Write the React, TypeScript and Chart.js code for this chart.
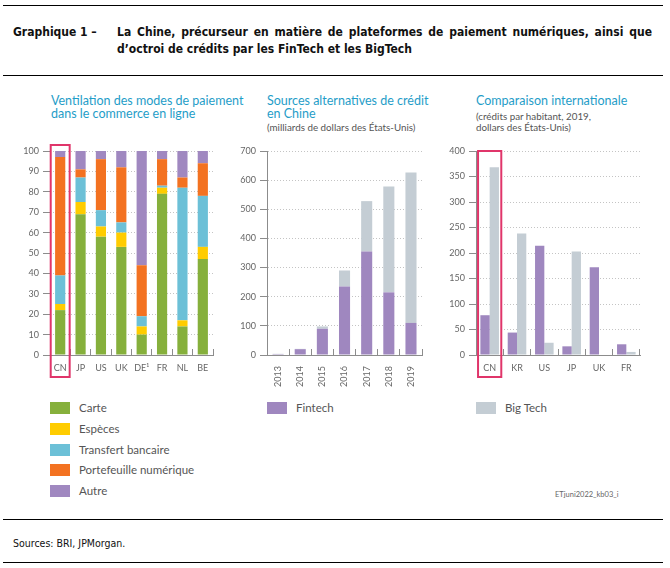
import React, { useEffect, useRef } from "react";
import { Chart, registerables } from "chart.js";

Chart.register(...registerables);

// ---------- Data ----------
const payCategories = ["CN", "JP", "US", "UK", "DE¹", "FR", "NL", "BE"];
const carte = [22, 69, 58, 53, 10, 79, 14, 47];
const especes = [3, 6, 5, 7, 4, 3, 3, 6];
const transfert = [14, 12, 8, 5, 5, 1, 65, 25];
const portefeuille = [58, 4, 25, 27, 25, 13, 5, 16];
const autre = [3, 9, 4, 8, 56, 4, 13, 6];

const years = ["2013", "2014", "2015", "2016", "2017", "2018", "2019"];
const fintechChina = [3, 20, 90, 235, 355, 215, 110];
const bigtechChina = [1, 1, 8, 55, 173, 363, 516];

const countries = ["CN", "KR", "US", "JP", "UK", "FR"];
const fintechPerCapita = [78, 44, 214, 17, 172, 21];
const bigtechPerCapita = [368, 238, 24, 203, 1, 6];

const payLegend = ["Carte", "Espèces", "Transfert bancaire", "Portefeuille numérique", "Autre"];

// ---------- Styles ----------
const C_CARTE = "#86b03c";
const C_ESPECES = "#ffcc00";
const C_TRANSFERT = "#6cc0d7";
const C_PORTEFEUILLE = "#f37221";
const C_AUTRE = "#a088c0";
const C_FINTECH = "#9f87bf";
const C_BIGTECH = "#c4cdd4";
const TEAL = "#1f9dc8";
const FONT = "Lato, 'Open Sans', sans-serif";
const DOC_FONT = "'DejaVu Sans Condensed', 'Liberation Sans', sans-serif";
const TICK_COLOR = "#666";
const GRID_COLOR = "#c4c4c4";
const AXIS_COLOR = "#8c8c8c";
const RED = "#e0356a";

function highlight(widthFrac: number, padTop: number, padBottom: number) {
  return {
    id: "highlight",
    afterDraw(chart: any) {
      const x = chart.scales.x;
      const cx = x.getPixelForValue(0);
      const w = (x.getPixelForValue(1) - cx) * widthFrac;
      const ca = chart.chartArea;
      const ctx = chart.ctx;
      ctx.save();
      ctx.strokeStyle = RED;
      ctx.lineWidth = 2;
      ctx.strokeRect(cx - w / 2, ca.top - padTop, w, ca.bottom - ca.top + padTop + padBottom);
      ctx.restore();
    },
  };
}

function yScale(max: number, step: number, showBorder: boolean, width: number) {
  return {
    min: 0,
    max,
    stacked: true,
    afterFit: (s: any) => {
      s.width = width;
    },
    ticks: {
      stepSize: step,
      color: TICK_COLOR,
      font: { family: FONT, size: 9 },
      padding: 4,
    },
    grid: {
      color: GRID_COLOR,
      tickColor: AXIS_COLOR,
      tickLength: 7,
      tickBorderDash: [],
    },
    border: {
      display: showBorder,
      color: AXIS_COLOR,
      dash: [1, 2],
    },
  };
}

function xScale(stacked: boolean, rotate: boolean, padding: number) {
  return {
    stacked,
    afterFit: (s: any) => {
      s.height = 35;
    },
    ticks: {
      color: TICK_COLOR,
      font: { family: FONT, size: 9 },
      autoSkip: false,
      padding,
      minRotation: rotate ? 90 : 0,
      maxRotation: rotate ? 90 : 0,
    },
    grid: {
      offset: true,
      drawOnChartArea: false,
      drawTicks: true,
      tickLength: -6,
      tickColor: AXIS_COLOR,
    },
    border: { display: true, color: AXIS_COLOR, width: 1 },
  };
}

const baseOptions = (padRight: number) => ({
  responsive: false,
  animation: false as const,
  devicePixelRatio: 1,
  layout: { padding: { top: 11, right: padRight, bottom: 0, left: 0 } },
  plugins: { legend: { display: false }, tooltip: { enabled: false } },
});

export default function App() {
  const leftRef = useRef<HTMLCanvasElement>(null);
  const midRef = useRef<HTMLCanvasElement>(null);
  const rightRef = useRef<HTMLCanvasElement>(null);

  useEffect(() => {
    const left = new Chart(leftRef.current as HTMLCanvasElement, {
      type: "bar",
      data: {
        labels: payCategories,
        datasets: [
          { label: payLegend[0], data: carte, backgroundColor: C_CARTE },
          { label: payLegend[1], data: especes, backgroundColor: C_ESPECES },
          { label: payLegend[2], data: transfert, backgroundColor: C_TRANSFERT },
          { label: payLegend[3], data: portefeuille, backgroundColor: C_PORTEFEUILLE },
          { label: payLegend[4], data: autre, backgroundColor: C_AUTRE },
        ].map((d) => ({ ...d, categoryPercentage: 1, barPercentage: 0.5, borderWidth: 0 })),
      },
      options: {
        ...baseOptions(12),
        scales: {
          x: xScale(true, false, 14),
          y: yScale(100, 10, false, 50),
        },
      } as any,
      plugins: [highlight(0.93, 6, 22)],
    });

    const mid = new Chart(midRef.current as HTMLCanvasElement, {
      type: "bar",
      data: {
        labels: years,
        datasets: [
          { label: "Fintech", data: fintechChina, backgroundColor: C_FINTECH },
          { label: "Big Tech", data: bigtechChina, backgroundColor: C_BIGTECH },
        ].map((d) => ({ ...d, categoryPercentage: 1, barPercentage: 0.5, borderWidth: 0 })),
      },
      options: {
        ...baseOptions(17),
        scales: {
          x: xScale(true, true, 17),
          y: yScale(700, 100, true, 42),
        },
      } as any,
    });

    const yR: any = yScale(400, 50, true, 36);
    yR.stacked = false;
    const right = new Chart(rightRef.current as HTMLCanvasElement, {
      type: "bar",
      data: {
        labels: countries,
        datasets: [
          { label: "Fintech", data: fintechPerCapita, backgroundColor: C_FINTECH },
          { label: "Big Tech", data: bigtechPerCapita, backgroundColor: C_BIGTECH },
        ].map((d) => ({ ...d, categoryPercentage: 0.68, barPercentage: 1, borderWidth: 0 })),
      },
      options: {
        ...baseOptions(25),
        scales: {
          x: xScale(false, false, 14),
          y: yR,
        },
      } as any,
      plugins: [highlight(0.85, 0, 22)],
    });

    return () => {
      left.destroy();
      mid.destroy();
      right.destroy();
    };
  }, []);

  const abs = (style: React.CSSProperties): React.CSSProperties => ({ position: "absolute", ...style });
  const rule = (top: number) => (
    <div style={abs({ left: 3, top, width: 660, height: 0, borderTop: "1px solid #000" })} />
  );
  const titleFont: React.CSSProperties = {
    fontFamily: DOC_FONT,
    fontWeight: 700,
    fontSize: 12,
    color: "#111",
    whiteSpace: "nowrap",
    lineHeight: "17px",
  };
  const chartTitle: React.CSSProperties = {
    fontFamily: FONT,
    fontSize: 12.5,
    color: TEAL,
    lineHeight: "13px",
    whiteSpace: "nowrap",
  };
  const subTitle: React.CSSProperties = {
    fontFamily: FONT,
    fontSize: 9.8,
    color: "#555",
    lineHeight: "11px",
    whiteSpace: "nowrap",
  };
  const legendText: React.CSSProperties = {
    fontFamily: FONT,
    fontSize: 11.5,
    color: "#555",
    lineHeight: "14px",
    whiteSpace: "nowrap",
  };
  const payColors = [C_CARTE, C_ESPECES, C_TRANSFERT, C_PORTEFEUILLE, C_AUTRE];

  const legendItem = (x: number, yc: number, color: string, text: string) => (
    <React.Fragment key={text}>
      <div style={abs({ left: x, top: yc - 6, width: 20, height: 12, background: color })} />
      <div style={abs({ left: x + 29, top: yc - 7, ...legendText })}>{text}</div>
    </React.Fragment>
  );

  return (
    <div style={abs({ left: 0, top: 0, width: 670, height: 568, background: "#fff", overflow: "hidden" })}>
      {rule(5)}
      <div style={abs({ left: 13, top: 24, ...titleFont })}>Graphique 1 –</div>
      <div
        style={abs({
          left: 117,
          top: 24,
          width: 535,
          ...titleFont,
          whiteSpace: "normal",
          textAlign: "justify",
          textAlignLast: "justify",
          height: 17,
          overflow: "hidden",
        })}
      >
        La Chine, précurseur en matière de plateformes de paiement numériques, ainsi que
      </div>
      <div style={abs({ left: 117, top: 41, ...titleFont })}>
        d’octroi de crédits par les FinTech et les BigTech
      </div>
      {rule(75)}

      <div style={abs({ left: 51, top: 93.5, ...chartTitle })}>
        Ventilation des modes de paiement
        <br />
        dans le commerce en ligne
      </div>
      <div style={abs({ left: 267, top: 93.5, ...chartTitle })}>
        Sources alternatives de crédit
        <br />
        en Chine
      </div>
      <div style={abs({ left: 267, top: 122, ...subTitle })}>(milliards de dollars des États-Unis)</div>
      <div style={abs({ left: 476, top: 93.5, ...chartTitle })}>Comparaison internationale</div>
      <div style={abs({ left: 476, top: 111, ...subTitle })}>
        (crédits par habitant, 2019,
        <br />
        dollars des États-Unis)
      </div>

      <canvas ref={leftRef} width={225} height={250} style={abs({ left: 0, top: 140, width: 225, height: 250 })} />
      <canvas ref={midRef} width={215} height={250} style={abs({ left: 225, top: 140, width: 215, height: 250 })} />
      <canvas ref={rightRef} width={225} height={250} style={abs({ left: 440, top: 140, width: 225, height: 250 })} />

      {payLegend.map((t, i) => legendItem(50, 408.3 + i * 20.7, payColors[i], t))}
      {legendItem(267, 408.3, C_FINTECH, "Fintech")}
      {legendItem(476, 408.3, C_BIGTECH, "Big Tech")}

      <div style={abs({ left: 555, top: 490, fontFamily: FONT, fontSize: 7.5, color: "#666", lineHeight: "10px" })}>
        ETjuni2022_kb03_i
      </div>

      {rule(519)}
      <div
        style={abs({
          left: 13,
          top: 535,
          fontFamily: DOC_FONT,
          fontSize: 10.5,
          color: "#111",
          lineHeight: "16px",
          whiteSpace: "nowrap",
        })}
      >
        Sources: BRI, JPMorgan.
      </div>
      {rule(562)}
    </div>
  );
}
